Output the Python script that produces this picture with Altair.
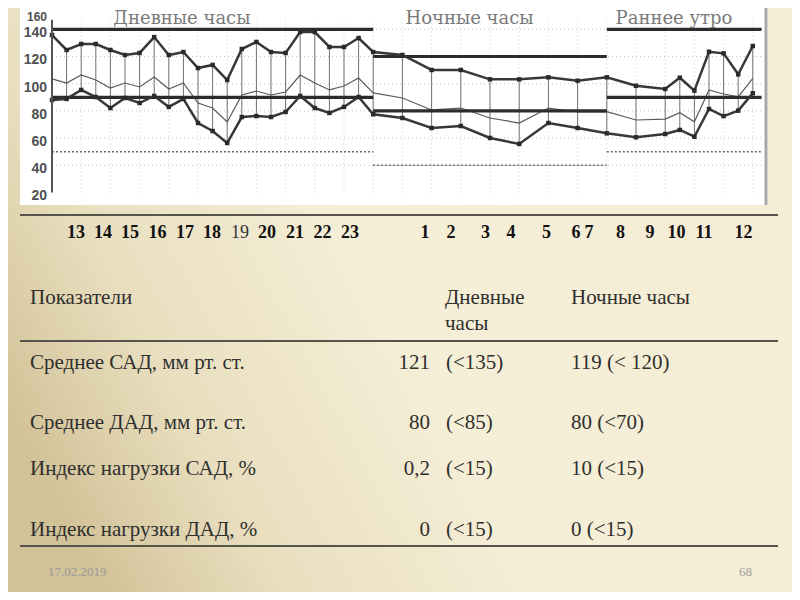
import altair as alt
import pandas as pd

# ---------------- ABPM record, values ----------------
# time in hours from midnight of the first day (24 = midnight, 25 = 1:00 ...)
times = [13, 13.5, 14, 14.5, 15, 15.5, 16, 16.5, 17, 17.5, 18, 18.5, 19, 19.5,
         20, 20.5, 21, 21.5, 22, 22.5, 23, 23.5, 24,
         25, 26, 27, 28, 29, 30, 31, 32,
         33, 34, 34.5, 35, 35.5, 36, 36.5, 37]
systolic = [135.8, 124.8, 129.2, 129.2, 124.8, 121.1, 122.6, 134.3, 121.1, 123.3,
            111.5, 113.8, 102.7, 125.5, 130.7, 123.3, 122.6, 138, 138, 127, 127,
            133.6, 123.3,
            121.1, 110.1, 110.1, 103.2, 103.2, 104.7, 102.2, 104.7,
            98.5, 96.1, 104.4, 94.9, 123.5, 122.3, 106.9, 127.7]
mean_bp = [103.5, 100.5, 106.4, 102.7, 96.8, 100.5, 97.6, 104.9, 96.1, 100.5,
           85.8, 82.1, 71.8, 91.7, 94.6, 91.7, 93.9, 106.4, 100.5, 95.4, 98.3,
           104.2, 93.2,
           89.5, 80.7, 82.1, 74.8, 71.1, 82.1, 79.2, 79.4,
           73.3, 74, 78.7, 72, 95.4, 92.4, 90.4, 104]
diastolic = [88, 88.8, 95.4, 90.2, 82.1, 89.5, 85.8, 91, 82.9, 88.8,
             71.1, 65.2, 56.4, 75.5, 76.2, 75.5, 79.2, 91, 82.1, 78.5, 82.9,
             90.2, 77.5,
             74.8, 67.4, 68.9, 60.1, 55.7, 71.1, 67.4, 63.5,
             60.6, 63, 66, 61, 81.4, 76.2, 80.2, 93]

period_names = ["Дневные часы", "Ночные часы", "Раннее утро"]
period_start = [13, 24, 32]
period_end = [24, 32, 37.3]
sys_limit = [140, 120, 140]
dia_limit = [90, 80, 90]
low_limit = [50, 40, 50]

y_ticks = [20, 40, 60, 80, 100, 120, 140, 160]
grid_levels = [40, 60, 80, 100, 120, 140]
grid_hours = list(range(14, 38))

# ---------------- slide text ----------------
hour_labels = ["13", "14", "15", "16", "17", "18", "19", "20", "21", "22", "23",
               "1", "2", "3", "4", "5", "6", "7", "8", "9", "10", "11", "12"]
header_texts = ["Показатели", "Дневные", "часы", "Ночные часы"]
row_labels = ["Среднее САД, мм рт. ст.", "Среднее ДАД, мм рт. ст.",
              "Индекс нагрузки САД, %", "Индекс нагрузки ДАД, %"]
day_values = ["121", "80", "0,2", "0"]
day_norms = ["(<135)", "(<85)", "(<15)", "(<15)"]
night_values = ["119 (< 120)", "80 (<70)", "10 (<15)", "0 (<15)"]
footer_date = "17.02.2019"
footer_page = "68"

# ---------------- layout (page geometry) ----------------
T_DOMAIN = [11.4932, 38.3425]     # graph time scale across the page width
V_DOMAIN = [-273.75, 155.66]      # graph pressure scale across the page height
SLIDE_X = [8, 792]
SLIDE_Y = [592, 8]
graph_box_x = [20, 768]
graph_box_y = [8, 205]
axis_span = [20, 147]
tick_label_t = 12.83              # right edge of the pressure tick labels
title_t = [17.45, 27.3, 34.3]
title_v = 147.4
hour_label_x = [76, 103, 130, 157.5, 185, 212, 240, 267, 295, 322.5, 350,
                425, 451, 485.5, 511, 546.5, 576, 589, 620.5, 650, 676.5, 704, 743.5]
hour_label_y = 233
header_x = [30, 445, 445, 571]
header_y = [298, 298, 324, 298]
row_y = [363, 423, 469, 530]
col_label_x, col_value_x, col_norm_x, col_night_x = 30, 430, 446, 571
table_rule_y = [215, 341, 546]
table_rule_x = [20, 778]
footer_y = 572
footer_x = [48, 752]

# ---------------- graph ----------------
xs = alt.Scale(domain=T_DOMAIN, nice=False, zero=False)
ys = alt.Scale(domain=V_DOMAIN, nice=False, zero=False)


def gx(f):
    return alt.X(f, type="quantitative", scale=xs, axis=None)


def gy(f):
    return alt.Y(f, type="quantitative", scale=ys, axis=None)


df = pd.DataFrame({"t": times, "sys": systolic, "mean": mean_bp, "dia": diastolic})
periods = pd.DataFrame({"name": period_names, "start": period_start, "end": period_end,
                        "sys": sys_limit, "dia": dia_limit, "low": low_limit,
                        "tt": title_t, "tv": title_v})

ticks_df = pd.DataFrame({"v": y_ticks, "label": [str(v) for v in y_ticks], "t": tick_label_t})
tick_style = dict(font="Liberation Sans", fontWeight="bold", color="#505050",
                  align="right", baseline="middle")
tick_labels = alt.Chart(ticks_df).transform_filter(f"datum.v <= {V_DOMAIN[1]}").mark_text(
    dy=4, fontSize=14, **tick_style).encode(x=gx("t"), y=gy("v"), text="label")
# the top label lies just above the page's top edge; nudge it into view
tick_top = alt.Chart(ticks_df).transform_filter(f"datum.v > {V_DOMAIN[1]}").mark_text(
    dy=15, fontSize=12, **tick_style).encode(x=gx("t"), y=gy("v"), text="label")

grid_h = alt.Chart(pd.DataFrame({"v": grid_levels, "t0": times[0], "t1": period_end[-1]})).mark_rule(
    color="#c2c2c2", strokeDash=[1, 3], strokeWidth=1).encode(x=gx("t0"), x2="t1", y=gy("v"))
grid_v = alt.Chart(pd.DataFrame({"t": grid_hours, "v0": axis_span[0], "v1": axis_span[1]})).mark_rule(
    color="#cccccc", strokeDash=[1, 3], strokeWidth=1).encode(x=gx("t"), y=gy("v0"), y2="v1")
axis_line = alt.Chart(pd.DataFrame({"t": [times[0]], "v0": [axis_span[0]], "v1": [axis_span[1]]})).mark_rule(
    color="#555555", strokeWidth=2).encode(x=gx("t"), y=gy("v0"), y2="v1")

thr_low = alt.Chart(periods).mark_rule(color="#6a6a6a", strokeDash=[2, 2], strokeWidth=1.6).encode(
    x=gx("start"), x2="end", y=gy("low"))
thr_sys = alt.Chart(periods).mark_rule(color="#2c2c2c", strokeWidth=3.2).encode(
    x=gx("start"), x2="end", y=gy("sys"))
thr_dia = alt.Chart(periods).mark_rule(color="#2c2c2c", strokeWidth=3.2).encode(
    x=gx("start"), x2="end", y=gy("dia"))

connectors = alt.Chart(df).mark_rule(color="#707070", strokeWidth=1).encode(
    x=gx("t"), y=gy("dia"), y2="sys")
mean_line = alt.Chart(df).mark_line(color="#5a5a5a", strokeWidth=1.2).encode(
    x=gx("t"), y=gy("mean"))
marker = alt.OverlayMarkDef(shape="square", size=20, filled=True, color="#2a2a2a")
sys_line = alt.Chart(df).mark_line(color="#383838", strokeWidth=2.5, point=marker).encode(
    x=gx("t"), y=gy("sys"))
dia_line = alt.Chart(df).mark_line(color="#383838", strokeWidth=2.5, point=marker).encode(
    x=gx("t"), y=gy("dia"))

titles = alt.Chart(periods).mark_text(font="DejaVu Serif", fontSize=18, color="#7a7a7a",
                                      align="center", baseline="middle").encode(
    x=gx("tt"), y=gy("tv"), text="name")

graph = alt.layer(grid_h, grid_v, thr_low, connectors, mean_line, thr_sys, thr_dia,
                  sys_line, dia_line, axis_line, titles, tick_labels, tick_top)

# ---------------- slide (page coordinates) ----------------
sx = alt.Scale(domain=SLIDE_X, nice=False, zero=False)
sy = alt.Scale(domain=SLIDE_Y, nice=False, zero=False)


def px(f):
    return alt.X(f, type="quantitative", scale=sx, axis=None)


def py(f):
    return alt.Y(f, type="quantitative", scale=sy, axis=None)


gradient = alt.LinearGradient(
    gradient="linear", x1=0, y1=0.7, x2=1, y2=0.3,
    stops=[alt.GradientStop(offset=0, color="#d2c298"),
           alt.GradientStop(offset=0.2, color="#e9dfbf"),
           alt.GradientStop(offset=0.5, color="#f6efd8"),
           alt.GradientStop(offset=1, color="#f4ecd3")])

bg = alt.Chart(pd.DataFrame({"x0": [SLIDE_X[0]], "x1": [SLIDE_X[1]],
                             "y0": [SLIDE_Y[1]], "y1": [SLIDE_Y[0]]})).mark_rect(color=gradient).encode(
    x=px("x0"), x2="x1", y=py("y0"), y2="y1")
box = alt.Chart(pd.DataFrame({"x0": [graph_box_x[0]], "x1": [graph_box_x[1]],
                              "y0": [graph_box_y[0]], "y1": [graph_box_y[1]]})).mark_rect(color="#ffffff").encode(
    x=px("x0"), x2="x1", y=py("y0"), y2="y1")
shadow = alt.Chart(pd.DataFrame({"x": [graph_box_x[1] - 2], "y0": [graph_box_y[0]], "y1": [graph_box_y[1]]})).mark_rule(
    color="#a8a8a8", strokeWidth=3).encode(x=px("x"), y=py("y0"), y2="y1")
slide_bg = alt.layer(bg, box, shadow)

table_rules = alt.Chart(pd.DataFrame({"y": table_rule_y, "x0": table_rule_x[0], "x1": table_rule_x[1]})).mark_rule(
    color="#57544b", strokeWidth=2).encode(x=px("x0"), x2="x1", y=py("y"))

hours_df = pd.DataFrame({"label": hour_labels, "x": hour_label_x, "y": hour_label_y})
hours_bold = alt.Chart(hours_df).transform_filter("datum.label != '19'").mark_text(
    font="Liberation Serif", fontSize=18, fontWeight="bold", color="#111111",
    align="center", baseline="middle").encode(x=px("x"), y=py("y"), text="label")
hours_plain = alt.Chart(hours_df).transform_filter("datum.label == '19'").mark_text(
    font="Liberation Serif", fontSize=18, color="#333333",
    align="center", baseline="middle").encode(x=px("x"), y=py("y"), text="label")

left_texts = pd.DataFrame({
    "text": header_texts + row_labels + day_norms + night_values,
    "x": header_x + [col_label_x] * 4 + [col_norm_x] * 4 + [col_night_x] * 4,
    "y": header_y + row_y * 3,
})
table_left = alt.Chart(left_texts).mark_text(
    font="Liberation Serif", fontSize=21, color="#2f2f2f", align="left", baseline="middle").encode(
    x=px("x"), y=py("y"), text="text")
table_right = alt.Chart(pd.DataFrame({"text": day_values, "x": col_value_x, "y": row_y})).mark_text(
    font="Liberation Serif", fontSize=21, color="#2f2f2f", align="right", baseline="middle").encode(
    x=px("x"), y=py("y"), text="text")

footer = alt.Chart(pd.DataFrame({"text": [footer_date, footer_page], "x": footer_x, "y": footer_y,
                                 "a": ["left", "right"]})).encode(
    x=px("x"), y=py("y"), text="text")
footer_l = footer.transform_filter("datum.a == 'left'").mark_text(
    font="Liberation Serif", fontSize=13, color="#9a9a9a", baseline="middle", align="left")
footer_r = footer.transform_filter("datum.a == 'right'").mark_text(
    font="Liberation Serif", fontSize=13, color="#9a9a9a", baseline="middle", align="right")

slide_fg = alt.layer(table_rules, hours_bold, hours_plain, table_left, table_right, footer_l, footer_r)

chart = alt.layer(slide_bg, graph, slide_fg).resolve_scale(
    x="independent", y="independent").properties(
    width=784, height=584, padding=0, background="#efe7cc",
    autosize=alt.AutoSizeParams(type="none")).configure_view(stroke=None)

chart.save("out.html", embed_options={"renderer": "svg", "actions": False})
